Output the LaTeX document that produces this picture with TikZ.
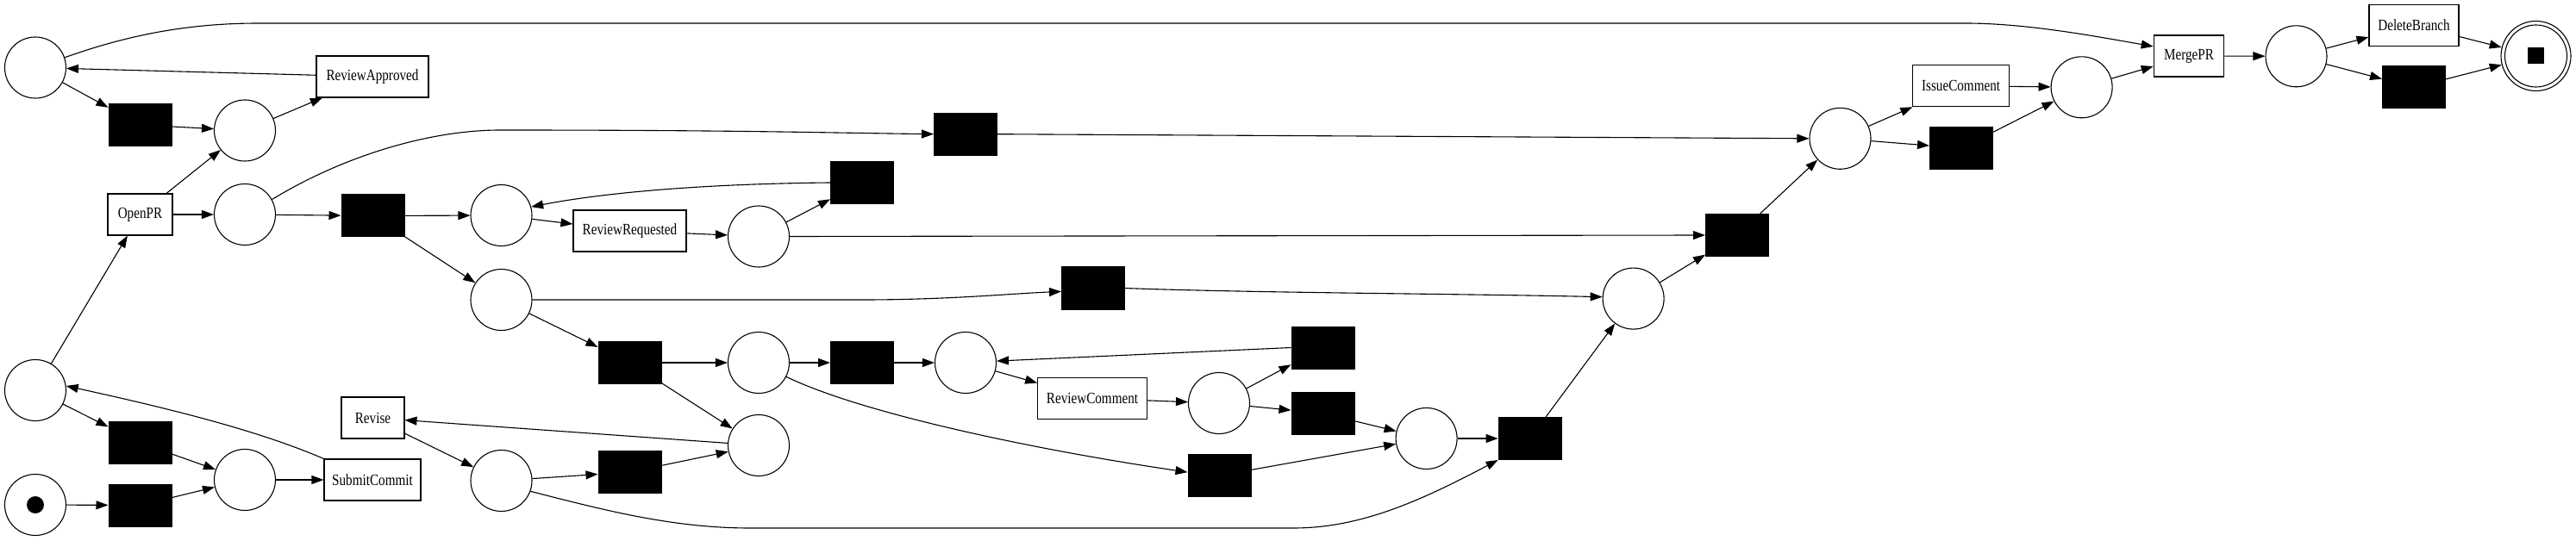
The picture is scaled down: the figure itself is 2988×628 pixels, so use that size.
\documentclass[tikz,border=0pt]{standalone}
\usepackage{fontspec}
\setmainfont{Liberation Serif}[FakeStretch=0.82]
\usetikzlibrary{arrows.meta}
\begin{document}
\begin{tikzpicture}[x=1pt,y=-1pt,
  place/.style={circle, draw, line width=1.1pt, minimum size=71pt, inner sep=0pt},
  trans/.style={rectangle, draw, line width=1.1pt, minimum height=48pt, inner sep=0pt, font=\fontsize{18.5}{20}\selectfont},
  silent/.style={rectangle, draw, fill=black, line width=1pt, minimum width=73pt, minimum height=49pt, inner sep=0pt},
  arc/.style={-{Triangle[length=14pt,width=10pt]}, line width=1.1pt}]
\useasboundingbox (0,0) rectangle (2988,628);
% places
\node[place] (pA) at (41,78.5) {};
\node[place] (pB) at (284,151.5) {};
\node[place] (pC) at (284,249) {};
\node[place] (pD) at (581.5,250) {};
\node[place] (pE) at (581.5,348) {};
\node[place] (pF) at (41,453) {};
\node[place] (pG) at (284,557) {};
\node[place] (pH) at (581.5,558) {};
\node[place] (pI) at (41,586) {};
\node[circle, fill=black, minimum size=20pt, inner sep=0pt] (tok) at (pI) {};
\node[place] (pJ) at (880,274.5) {};
\node[place] (pK) at (880,421) {};
\node[place] (pL) at (1120,421) {};
\node[place] (pM) at (1414,468) {};
\node[place] (pN) at (880,517) {};
\node[place] (pO) at (1654.6,509) {};
\node[place] (pP) at (1894.6,346.6) {};
\node[place] (pQ) at (2134.5,160.8) {};
\node[place] (pR) at (2414.6,101.3) {};
\node[place] (pS) at (2663.5,65.3) {};
\node[place, minimum size=81pt] (pEnd) at (2941.5,65) {};
\node[place, minimum size=72pt] (pEndIn) at (pEnd) {};
\node[fill=black, minimum size=19pt, inner sep=0pt] (endTok) at (pEnd) {};
% labelled transitions
\node[trans, minimum width=130pt] (RA) at (432,89) {ReviewApproved};
\node[trans, minimum width=75pt] (OP) at (162.5,249) {OpenPR};
\node[trans, minimum width=131pt] (RR) at (730.5,268) {ReviewRequested};
\node[trans, minimum width=73pt] (RV) at (432.5,485) {Revise};
\node[trans, minimum width=112pt] (SC) at (432,557) {SubmitCommit};
\node[trans, minimum width=126.6pt] (RC) at (1267,462.5) {ReviewComment};
\node[trans, minimum width=112pt] (IC) at (2274.6,99.7) {IssueComment};
\node[trans, minimum width=81.5pt] (MP) at (2539,65) {MergePR};
\node[trans, minimum width=104pt] (DB) at (2800,29.2) {DeleteBranch};
% silent transitions
\node[silent] (t1) at (162.5,145) {};
\node[silent] (t2) at (432.5,250.5) {};
\node[silent] (t3) at (730.5,421) {};
\node[silent] (t4) at (162.5,514) {};
\node[silent] (t5) at (730.5,548) {};
\node[silent] (t6) at (162.5,586.5) {};
\node[silent] (t7) at (1120,155.7) {};
\node[silent] (t8) at (1000,212) {};
\node[silent] (t9) at (1268,334.5) {};
\node[silent] (t10) at (1000,421) {};
\node[silent] (t11) at (1414.5,552) {};
\node[silent] (t12) at (1534.5,403.5) {};
\node[silent] (t13) at (1534.5,479.8) {};
\node[silent] (t14) at (1774.6,509) {};
\node[silent] (t15) at (2015,273) {};
\node[silent] (t16) at (2275,172) {};
\node[silent] (t17) at (2800,101.4) {};
% arcs
\draw[arc] (pI) -- (t6);
\draw[arc] (t6) -- (pG);
\draw[arc] (pF) -- (t4);
\draw[arc] (t4) -- (pG);
\draw[arc] (pG) -- (SC);
\draw[arc] (SC.north west) .. controls (300,500) and (200,475) .. (pF.8);
\draw[arc] (pF) -- (OP);
\draw[arc] (OP) -- (pB);
\draw[arc] (OP) -- (pC);
\draw[arc] (pA) -- (t1);
\draw[arc] (t1) -- (pB);
\draw[arc] (pB) -- (RA);
\draw[arc] (RA) -- (pA);
\draw[arc] (pA.19) .. controls (150,40) and (220,27) .. (300,27) -- (2280,27) .. controls (2350,27) and (2430,42) .. (MP.165);
\draw[arc] (pC.29) .. controls (400,180) and (500,151) .. (580,151) .. controls (850,151) and (950,154) .. (t7.west);
\draw[arc] (t7.east) -- (pQ.west);
\draw[arc] (pC) -- (t2);
\draw[arc] (t2) -- (pD);
\draw[arc] (t2) -- (pE);
\draw[arc] (pD) -- (RR);
\draw[arc] (RR) -- (pJ);
\draw[arc] (pJ) -- (t8);
\draw[arc] (t8.west) .. controls (850,213) and (720,220) .. (pD.16);
\draw[arc] (pJ.east) -- (t15.west);
\draw[arc] (pE.east) -- (1000,348) .. controls (1100,348) and (1170,341) .. (t9.186);
\draw[arc] (t9.east) .. controls (1450,340) and (1700,341) .. (pP.177);
\draw[arc] (pE) -- (t3);
\draw[arc] (t3) -- (pK);
\draw[arc] (t3) -- (pN);
\draw[arc] (pK) -- (t10);
\draw[arc] (t10) -- (pL);
\draw[arc] (pL) -- (RC);
\draw[arc] (RC) -- (pM);
\draw[arc] (pM) -- (t12);
\draw[arc] (pM) -- (t13);
\draw[arc] (t12.west) -- (pL.3);
\draw[arc] (t13) -- (pO);
\draw[arc] (pK.333) .. controls (1000,480) and (1200,522) .. (t11.174);
\draw[arc] (t11) -- (pO);
\draw[arc] (pH) -- (t5);
\draw[arc] (t5) -- (pN);
\draw[arc] (pN) -- (RV);
\draw[arc] (RV) -- (pH);
\draw[arc] (pH.340) .. controls (700,592) and (780,613) .. (870,613) -- (1500,613) .. controls (1580,613) and (1650,580) .. (t14.south west);
\draw[arc] (pO) -- (t14);
\draw[arc] (t14) -- (pP);
\draw[arc] (pP) -- (t15);
\draw[arc] (t15) -- (pQ);
\draw[arc] (pQ) -- (IC);
\draw[arc] (pQ) -- (t16);
\draw[arc] (IC) -- (pR);
\draw[arc] (t16) -- (pR);
\draw[arc] (pR) -- (MP);
\draw[arc] (MP) -- (pS);
\draw[arc] (pS) -- (DB);
\draw[arc] (pS) -- (t17);
\draw[arc] (DB) -- (pEnd);
\draw[arc] (t17) -- (pEnd);
\end{tikzpicture}
\end{document}
